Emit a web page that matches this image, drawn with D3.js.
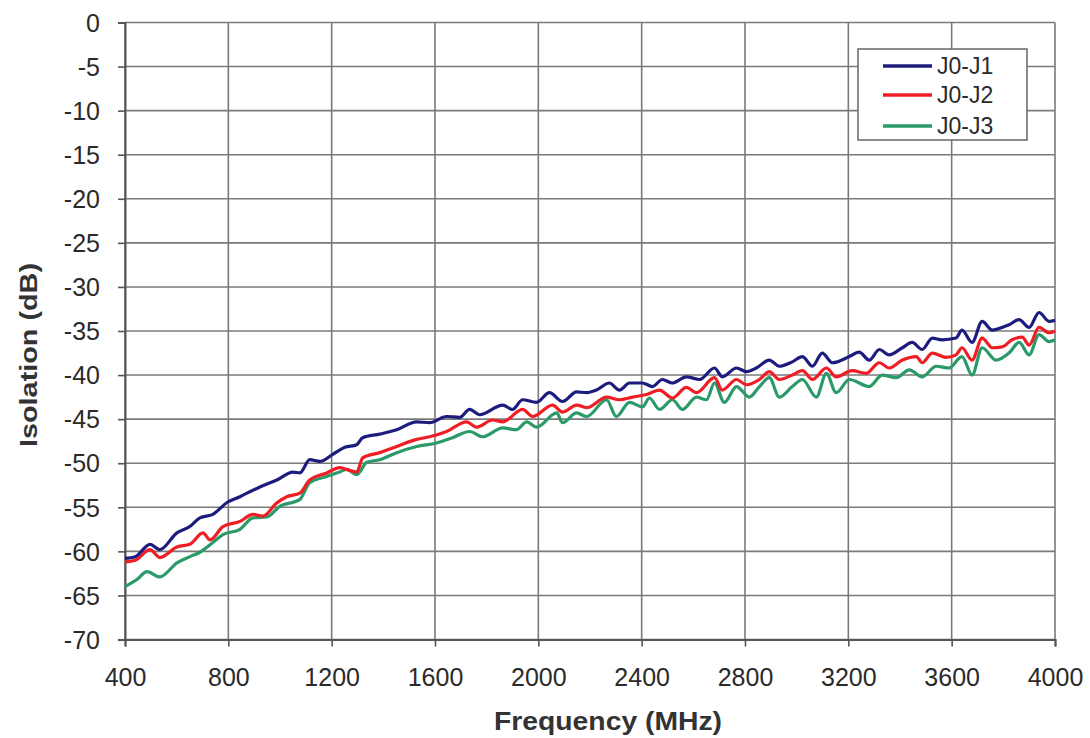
<!DOCTYPE html>
<html><head><meta charset="utf-8">
<script src="https://cdn.jsdelivr.net/npm/d3@7"></script>
<style>body{margin:0;background:#fff}svg{display:block}</style>
</head><body>
<svg id="chart" width="1090" height="738"></svg>
<script>
const seriesNames = ["J0-J1", "J0-J2", "J0-J3"];
const seriesColors = ["#1c1c7e", "#f01e24", "#2a9a68"];

const j1Freq = [400,440,497,535,601,650,690,740,798,845,872,922,988,1050,1077,1115,1154,1204,1251,1297,1320,1386,1452,1529,1579,1645,1695,1734,1773,1862,1900,1939,1993,2043,2094,2148,2187,2225,2275,2314,2353,2403,2442,2480,2519,2573,2624,2682,2712,2767,2805,2844,2894,2933,2983,3022,3061,3099,3138,3204,3242,3281,3320,3358,3409,3447,3486,3525,3563,3617,3640,3679,3718,3757,3795,3822,3861,3900,3938,3977,4000];
const j1Vals = [-60.8,-60.6,-59.2,-59.8,-57.9,-57.2,-56.2,-55.8,-54.4,-53.8,-53.4,-52.7,-51.9,-51.0,-51.1,-49.6,-49.8,-49.0,-48.2,-47.9,-47.1,-46.7,-46.2,-45.3,-45.4,-44.7,-44.8,-43.9,-44.5,-43.4,-43.9,-42.8,-43.1,-42.0,-43.0,-41.9,-42.0,-41.7,-40.9,-41.7,-40.9,-40.9,-41.3,-40.5,-40.9,-40.2,-40.5,-39.2,-40.2,-39.2,-39.6,-39.2,-38.3,-39.0,-38.5,-37.9,-39.0,-37.5,-38.6,-37.9,-37.4,-38.3,-37.1,-37.7,-36.9,-36.3,-37.1,-35.8,-36.0,-35.8,-34.9,-36.3,-33.9,-34.9,-34.6,-34.3,-33.7,-34.6,-32.9,-33.9,-33.8];

const j2Freq = [400,440,497,535,601,651,702,729,779,845,895,934,988,1026,1077,1115,1181,1231,1258,1297,1320,1386,1452,1529,1579,1645,1722,1761,1823,1862,1939,1978,2055,2094,2148,2187,2264,2314,2364,2419,2469,2519,2573,2612,2682,2712,2767,2805,2856,2894,2933,2983,3022,3061,3115,3153,3215,3269,3320,3358,3409,3463,3486,3525,3579,3617,3640,3679,3718,3757,3795,3834,3873,3900,3938,3977,4000];
const j2Vals = [-61.2,-61.0,-59.8,-60.7,-59.5,-59.2,-57.9,-58.7,-57.2,-56.6,-55.8,-56.0,-54.5,-53.8,-53.4,-51.9,-51.1,-50.5,-50.7,-51.0,-49.4,-48.8,-48.1,-47.3,-47.0,-46.4,-45.3,-45.9,-45.1,-45.3,-43.9,-44.7,-43.4,-44.2,-43.4,-43.7,-42.5,-42.8,-42.5,-42.2,-41.7,-42.6,-41.4,-42.0,-40.3,-41.7,-40.5,-41.1,-40.5,-39.6,-40.5,-40.0,-39.5,-40.5,-39.2,-40.2,-39.5,-39.8,-38.6,-39.2,-38.3,-37.9,-38.6,-37.5,-38.0,-37.7,-36.9,-38.3,-35.8,-36.9,-36.8,-36.0,-35.7,-36.6,-34.6,-35.2,-35.0];

const j3Freq = [400,446,485,535,601,651,690,740,779,845,895,949,999,1077,1115,1181,1231,1258,1297,1336,1386,1452,1529,1606,1668,1734,1784,1862,1915,1955,1993,2071,2094,2148,2187,2264,2302,2353,2403,2430,2469,2519,2558,2612,2651,2682,2720,2767,2817,2856,2894,2933,2983,3022,3076,3115,3153,3204,3281,3331,3385,3436,3486,3540,3590,3640,3679,3718,3772,3822,3861,3900,3938,3977,4000];
const j3Vals = [-64.0,-63.2,-62.3,-62.9,-61.3,-60.6,-60.1,-59.0,-58.1,-57.5,-56.2,-56.1,-54.9,-54.1,-52.2,-51.5,-51.0,-50.7,-51.3,-49.9,-49.6,-48.8,-48.1,-47.7,-47.1,-46.4,-47.0,-46.0,-46.2,-45.3,-45.9,-44.3,-45.4,-44.3,-44.7,-42.8,-44.7,-43.1,-43.6,-42.6,-43.9,-42.8,-43.9,-42.5,-42.8,-40.9,-43.1,-41.3,-42.5,-41.3,-40.3,-42.5,-41.3,-40.5,-42.5,-39.8,-42.0,-40.5,-41.3,-40.0,-40.3,-39.4,-40.2,-39.0,-39.2,-37.9,-40.0,-36.9,-38.3,-37.5,-36.3,-37.7,-35.4,-36.2,-36.0];

const xTicks = [400,800,1200,1600,2000,2400,2800,3200,3600,4000];
const yTicks = [0,-5,-10,-15,-20,-25,-30,-35,-40,-45,-50,-55,-60,-65,-70];

const series = [
  {name: seriesNames[0], color: seriesColors[0], f: j1Freq, v: j1Vals},
  {name: seriesNames[1], color: seriesColors[1], f: j2Freq, v: j2Vals},
  {name: seriesNames[2], color: seriesColors[2], f: j3Freq, v: j3Vals}
];

const FONT = "Liberation Sans, Arial, sans-serif";
const svg = d3.select("#chart");
const L = 125, R = 1055, T = 22.5, B = 639.5;
const x = d3.scaleLinear().domain([400, 4000]).range([L, R]);
const y = d3.scaleLinear().domain([-70, 0]).range([B, T]);

// grid
const grid = svg.append("g");
grid.selectAll(".vg").data(xTicks).join("line")
  .attr("x1", d => x(d)).attr("x2", d => x(d)).attr("y1", T).attr("y2", B)
  .attr("stroke", "#7a7a7a").attr("stroke-width", 1.6);
grid.selectAll(".hg").data(yTicks).join("line")
  .attr("y1", d => y(d)).attr("y2", d => y(d)).attr("x1", L).attr("x2", R)
  .attr("stroke", "#7a7a7a").attr("stroke-width", 1.6);

// axes
const xAxis = d3.axisBottom(x).tickValues(xTicks).tickSize(7).tickPadding(22).tickFormat(d3.format("d"));
const yAxis = d3.axisLeft(y).tickValues(yTicks).tickSize(7).tickPadding(18).tickFormat(d => d === 0 ? "0" : String(d));
const gx = svg.append("g").attr("transform", `translate(0,${B})`).call(xAxis);
const gy = svg.append("g").attr("transform", `translate(${L},0)`).call(yAxis);
[gx, gy].forEach(g => {
  g.select(".domain").attr("stroke", "#555").attr("stroke-width", 2);
  g.selectAll(".tick line").attr("stroke", "#555").attr("stroke-width", 1.6);
  g.selectAll(".tick text").attr("fill", "#2a2a2a").style("font-family", FONT).style("font-size", "25px");
});
gy.selectAll(".tick text").attr("dy", "0.35em");

// lines
const line = d3.line().x(d => x(d[0])).y(d => y(d[1])).curve(d3.curveMonotoneX);
series.slice().reverse().forEach(s => {
  svg.append("path")
    .datum(s.f.map((f, i) => [f, s.v[i]]))
    .attr("d", line)
    .attr("fill", "none")
    .attr("stroke", s.color)
    .attr("stroke-width", 3.2)
    .attr("stroke-linejoin", "round");
});

// legend
const lg = svg.append("g");
lg.append("rect").attr("x", 858).attr("y", 49).attr("width", 169).attr("height", 91)
  .attr("fill", "#fff").attr("stroke", "#666").attr("stroke-width", 1.5);
const rows = [66, 95, 126];
series.forEach((s, i) => {
  lg.append("line").attr("x1", 883).attr("x2", 932).attr("y1", rows[i]).attr("y2", rows[i])
    .attr("stroke", s.color).attr("stroke-width", 3.5);
  lg.append("text").attr("x", 937).attr("y", rows[i]).attr("dy", "0.35em")
    .attr("fill", "#2a2a2a").style("font-family", FONT).style("font-size", "23px")
    .text(s.name);
});

// titles
svg.append("text").attr("x", 608).attr("y", 730).attr("text-anchor", "middle")
  .attr("textLength", 228).attr("lengthAdjust", "spacingAndGlyphs")
  .attr("fill", "#333").style("font-family", FONT).style("font-weight", "bold").style("font-size", "25px")
  .text("Frequency (MHz)");
svg.append("text").attr("transform", "translate(37,355) rotate(-90)").attr("text-anchor", "middle")
  .attr("textLength", 184).attr("lengthAdjust", "spacingAndGlyphs")
  .attr("fill", "#333").style("font-family", FONT).style("font-weight", "bold").style("font-size", "24px")
  .text("Isolation (dB)");
</script>
</body></html>
